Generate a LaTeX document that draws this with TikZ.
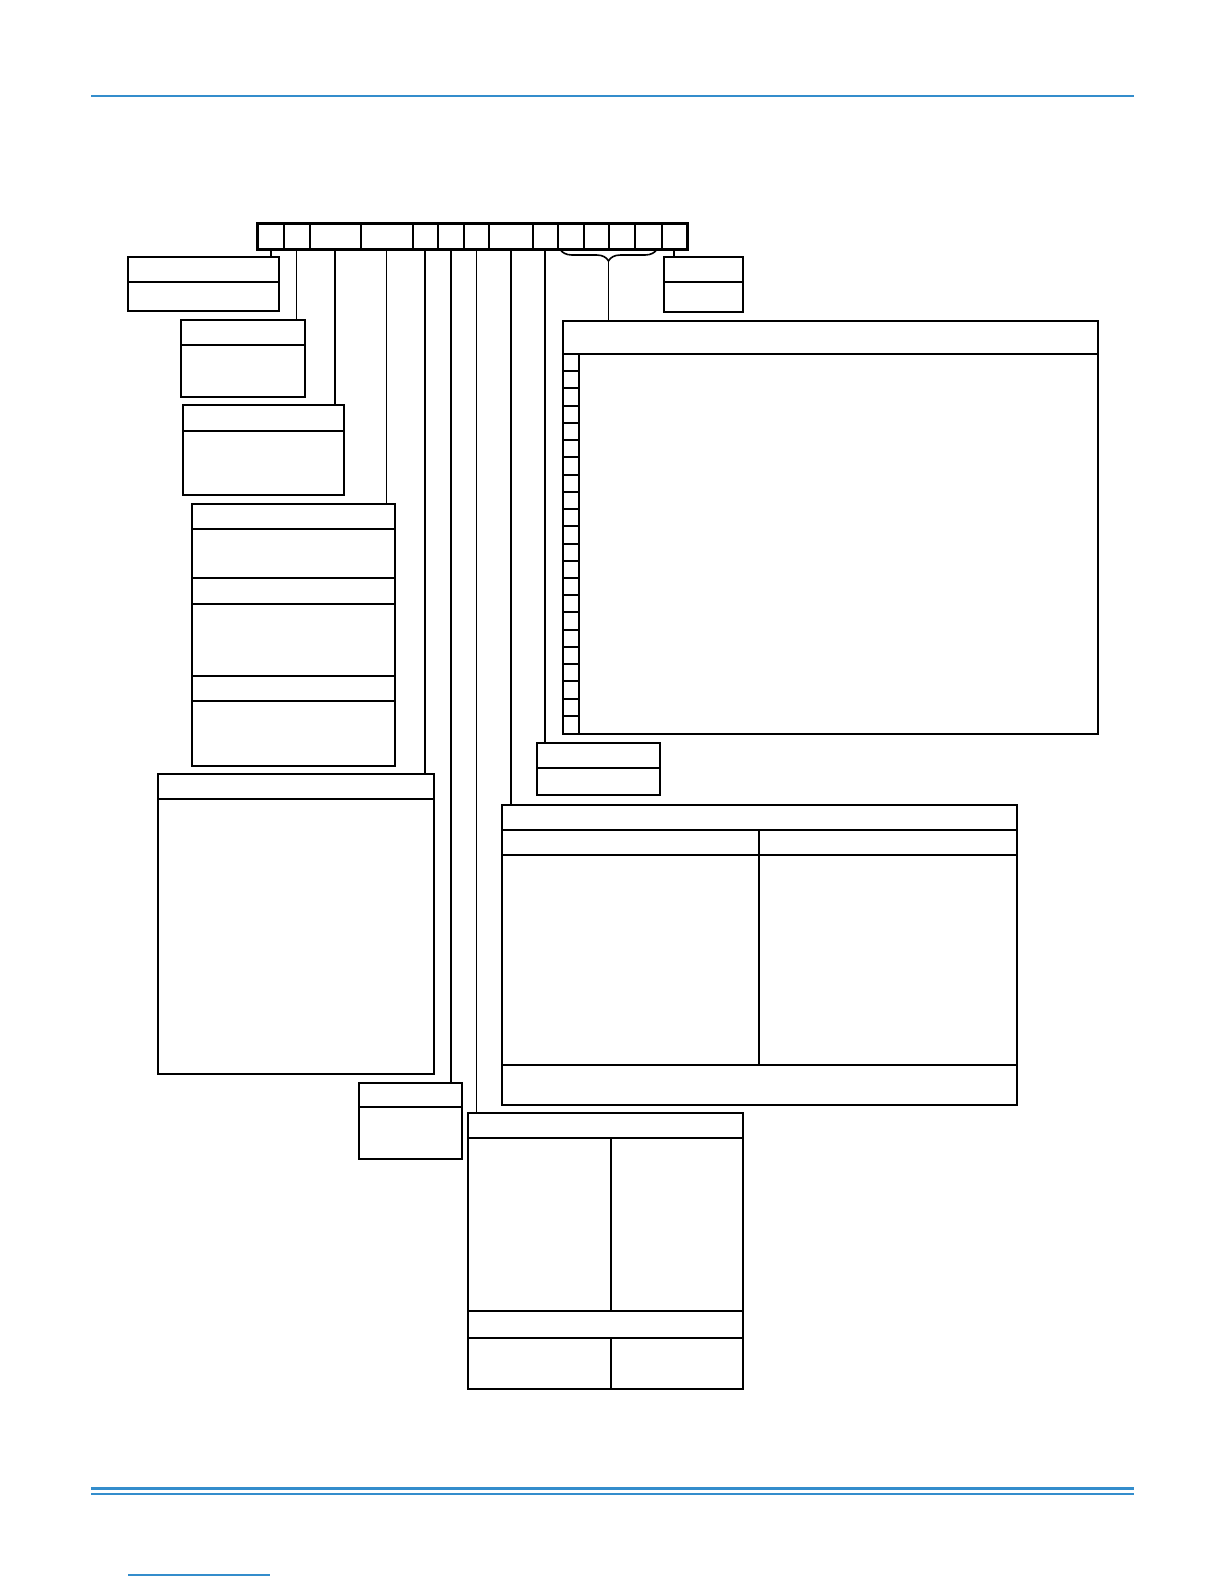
\documentclass[tikz,border=0pt]{standalone}
\usetikzlibrary{positioning, decorations.pathreplacing}
\definecolor{rule}{RGB}{52,141,204}
\begin{document}
\begin{tikzpicture}[x=0.5pt, y=-0.5pt,
  box/.style = {draw, line width=1pt, inner sep=0pt, anchor=north west},
  cell/.style = {draw, line width=0.8pt, inner sep=0pt, anchor=north west, minimum height=12.5pt},
  lead/.style = {line width=1pt},
  thinlead/.style = {line width=0.5pt},
  bar/.style = {line width=1pt},
  thinbar/.style = {line width=0.6pt}]
\useasboundingbox (0,0) rectangle (1224,1584);
% page rules
\draw[rule, line width=0.8pt] (91,96) -- (1134,96);
\draw[rule, line width=1.5pt] (91,1488) -- (1134,1488);
\draw[rule, line width=0.8pt] (91,1494) -- (1134,1494);
\draw[rule, line width=0.6pt] (128,1575) -- (270,1575);
% code cells
\foreach \a/\b [count=\i] in {257/283, 283/309, 309/360, 360/412, 412/437, 437/463, 463/488,
  488/532, 532/557, 557/583, 583/608, 608/634, 634/661, 661/686}
  \node[cell, minimum width={(\b-\a)*0.5pt}] (c\i) at (\a,223) {};
\draw[line width=1.2pt] (c1.north west) rectangle (c14.south east);
% boxes
\node[box, minimum width=75.5pt, minimum height=27pt] (b1) at (127,256) {};
\node[box, minimum width=62pt, minimum height=38.5pt] (b2) at (180,319) {};
\node[box, minimum width=80.5pt, minimum height=45pt] (b3) at (182,404) {};
\node[box, minimum width=101.5pt, minimum height=131pt] (b4) at (191,503) {};
\node[box, minimum width=138pt, minimum height=150pt] (b5) at (157,773) {};
\node[box, minimum width=51.5pt, minimum height=38pt] (b6) at (358,1082) {};
\node[box, minimum width=137.5pt, minimum height=138pt] (b7) at (467,1112) {};
\node[box, minimum width=257.5pt, minimum height=150pt] (b8) at (501,804) {};
\node[box, minimum width=61.5pt, minimum height=26pt] (b9) at (536,742) {};
\node[box, minimum width=267.5pt, minimum height=206.5pt] (b10) at (562,320) {};
\node[box, minimum width=39.5pt, minimum height=27.5pt] (b11) at (663,256) {};
% dividers
\draw[bar] (b1.west |- 0,282) -- (b1.east |- 0,282);
\draw[bar] (b2.west |- 0,345) -- (b2.east |- 0,345);
\draw[thinbar] (b3.west |- 0,431) -- (b3.east |- 0,431);
\draw[thinbar] (b4.west |- 0,529) -- (b4.east |- 0,529);
\foreach \y in {578, 604, 676}
  \draw[bar] (b4.west |- 0,\y) -- (b4.east |- 0,\y);
\draw[thinbar] (b4.west |- 0,701) -- (b4.east |- 0,701);
\draw[bar] (b5.west |- 0,799) -- (b5.east |- 0,799);
\draw[bar] (b6.west |- 0,1107) -- (b6.east |- 0,1107);
\foreach \y in {1138, 1311, 1338}
  \draw[bar] (b7.west |- 0,\y) -- (b7.east |- 0,\y);
\draw[bar] (611,1138) -- (611,1311);
\draw[bar] (611,1338) -- (b7.south -| 611,0);
\foreach \y in {830, 1065}
  \draw[bar] (b8.west |- 0,\y) -- (b8.east |- 0,\y);
\draw[thinbar] (b8.west |- 0,855) -- (b8.east |- 0,855);
\draw[bar] (759,830) -- (759,1065);
\draw[bar] (b9.west |- 0,768) -- (b9.east |- 0,768);
\draw[bar] (b10.west |- 0,354) -- (b10.east |- 0,354);
\draw[bar] (579,354) -- (b10.south -| 579,0);
\foreach \k in {1,...,21}
  \draw[bar] (b10.west |- 0,{354+\k*379/22}) -- (579,{354+\k*379/22});
\draw[bar] (b11.west |- 0,282) -- (b11.east |- 0,282);
% leads
\draw[lead] (c1.south) -- (c1.south |- b1.north);
\draw[thinlead] (c2.south) -- (c2.south |- b2.north);
\draw[lead] (c3.south) -- (c3.south |- b3.north);
\draw[thinlead] (c4.south) -- (c4.south |- b4.north);
\draw[lead] (c5.south) -- (c5.south |- b5.north);
\draw[lead] (c6.south) -- (c6.south |- b6.north);
\draw[thinlead] (c7.south) -- (c7.south |- b7.north);
\draw[lead] (c8.south) -- (c8.south |- b8.north);
\draw[lead] (c9.south) -- (c9.south |- b9.north);
\draw[lead] (c14.south) -- (c14.south |- b11.north);
% brace over options
\draw[line width=0.8pt, decorate, decoration={brace, mirror, amplitude=6pt}]
  (560,249) -- (657,249);
\coordinate (tip) at (608.5,262);
\draw[thinlead] (tip) -- (tip |- b10.north);
\end{tikzpicture}
\end{document}
